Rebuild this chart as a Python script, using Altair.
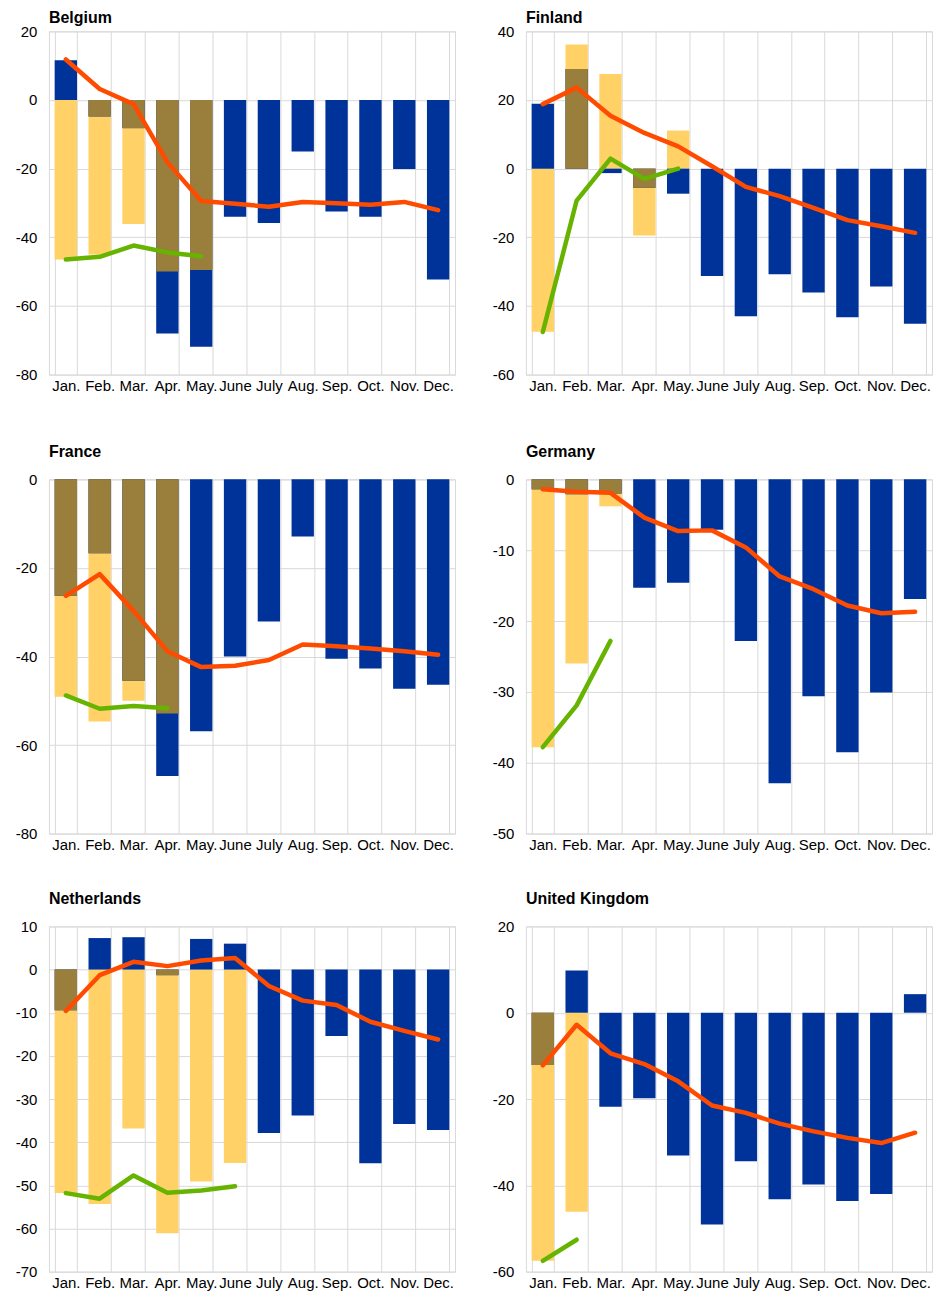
import altair as alt
import pandas as pd
import numpy as np

months = ["Jan.", "Feb.", "Mar.", "Apr.", "May.", "June", "July", "Aug.", "Sep.", "Oct.", "Nov.", "Dec."]
N = None

# ---- Belgium ----
belgium_blue = [11.6, -4.8, -8.2, -68.0, -71.9, -34.0, -35.8, -15.0, -32.5, -34.0, -20.1, -52.3]
belgium_yellow = [-46.5, -45.0, -36.1, -50.0, -49.5, N, N, N, N, N, N, N]
belgium_orange = [11.8, 3.2, -1.2, -18.1, -29.4, -30.2, -31.1, -29.7, -30.1, -30.5, -29.7, -32.1]
belgium_green = [-46.5, -45.7, -42.4, -44.4, -45.5, N, N, N, N, N, N, N]

# ---- Finland ----
finland_blue = [18.9, 29.0, -1.3, -5.6, -7.3, -31.3, -43.0, -30.8, -36.1, -43.3, -34.3, -45.2]
finland_yellow = [-47.5, 36.2, 27.6, -19.5, 11.1, N, N, N, N, N, N, N]
finland_orange = [18.8, 23.6, 15.4, 10.4, 6.5, 0.7, -5.3, -8.0, -11.4, -15.0, -16.8, -18.7]
finland_green = [-47.6, -9.3, 2.9, -3.0, 0.0, N, N, N, N, N, N, N]

# ---- France ----
france_blue = [-26.3, -16.7, -45.5, -67.0, -56.9, -40.0, -32.1, -12.9, -40.5, -42.7, -47.3, -46.4]
france_yellow = [-49.1, -54.7, -50.0, -52.9, N, N, N, N, N, N, N, N]
france_orange = [-26.3, -21.4, -29.7, -38.8, -42.4, -42.1, -40.8, -37.3, -37.7, -38.2, -38.8, -39.6]
france_green = [-48.8, -51.8, -51.2, -51.7, N, N, N, N, N, N, N, N]

# ---- Germany ----
germany_blue = [-1.4, -2.1, -2.0, -15.3, -14.6, -7.1, -22.8, -42.9, -30.6, -38.5, -30.1, -16.9]
germany_yellow = [-37.8, -26.0, -3.8, N, N, N, N, N, N, N, N, N]
germany_orange = [-1.4, -1.75, -1.9, -5.4, -7.3, -7.2, -9.6, -13.7, -15.5, -17.8, -18.9, -18.7]
germany_green = [-37.8, -31.9, -22.8, N, N, N, N, N, N, N, N, N]

# ---- Netherlands ----
netherlands_blue = [-9.4, 7.3, 7.5, -1.3, 7.1, 6.0, -37.9, -33.8, -15.4, -44.9, -35.8, -37.2]
netherlands_yellow = [-51.8, -54.3, -36.8, -61.1, -49.1, -44.8, N, N, N, N, N, N]
netherlands_orange = [-9.6, -1.3, 1.8, 0.8, 2.1, 2.7, -3.8, -7.2, -8.2, -12.1, -14.2, -16.2]
netherlands_green = [-51.8, -53.1, -47.7, -51.7, -51.2, -50.2, N, N, N, N, N, N]

# ---- United Kingdom ----
uk_blue = [-12.1, 9.8, -21.8, -19.8, -33.1, -49.1, -34.4, -43.2, -39.8, -43.6, -42.0, 4.3]
uk_yellow = [-57.5, -46.1, N, N, N, N, N, N, N, N, N, N]
uk_orange = [-12.2, -2.8, -9.4, -11.9, -15.9, -21.5, -23.2, -25.7, -27.5, -29.0, -30.2, -27.8]
uk_green = [-57.5, -52.6, N, N, N, N, N, N, N, N, N, N]

series = {
    "Belgium": (belgium_blue, belgium_yellow, belgium_orange, belgium_green),
    "Finland": (finland_blue, finland_yellow, finland_orange, finland_green),
    "France": (france_blue, france_yellow, france_orange, france_green),
    "Germany": (germany_blue, germany_yellow, germany_orange, germany_green),
    "Netherlands": (netherlands_blue, netherlands_yellow, netherlands_orange, netherlands_green),
    "United Kingdom": (uk_blue, uk_yellow, uk_orange, uk_green),
}

rows = []
for country, (b, y, o, g) in series.items():
    for i, m in enumerate(months):
        ov = None
        if y[i] is not None and b[i] is not None and np.sign(y[i]) == np.sign(b[i]):
            ov = float(np.sign(b[i]) * min(abs(b[i]), abs(y[i])))
        rows.append({"country": country, "month": m, "blue": b[i], "yellow": y[i],
                     "olive": ov, "orange": o[i], "green": g[i]})
df = pd.DataFrame(rows)

BLUE = "#003399"
YELLOW = "#FFD166"
OLIVE = "#9A7F3C"
ORANGE = "#FF4B00"
GREEN = "#66B400"
GRID = "#d9d9d9"
FONT = "Liberation Sans"


def panel(name, ymin, ymax, step, height, title_offset):
    base = alt.Chart(df).transform_filter(alt.datum.country == name)
    xenc = alt.X(
        "month:N", sort=months,
        scale=alt.Scale(domain=months, paddingInner=0.34, paddingOuter=0.17),
        axis=alt.Axis(title=None, labelAngle=0, grid=True, tickBand="extent", ticks=False,
                      domain=False, labelPadding=4, labelFontSize=15, labelColor="#000",
                      gridColor=GRID, labelFont=FONT),
    )
    yscale = alt.Scale(domain=[ymin, ymax], nice=False)
    yaxis = alt.Axis(title=None, values=list(range(ymin, ymax + 1, step)), grid=True,
                     ticks=False, domain=False, labelPadding=12, minExtent=40, maxExtent=40,
                     labelExpr="'' + datum.value",
                     labelFontSize=15, labelColor="#000", gridColor=GRID, labelFont=FONT)

    def bar(field, color):
        return base.mark_bar(color=color).encode(
            x=xenc, y=alt.Y(f"{field}:Q", scale=yscale, axis=yaxis), y2=alt.datum(0))

    def line(field, color):
        return base.mark_line(color=color, strokeWidth=4.5, strokeCap="round",
                              strokeJoin="round").encode(
            x=xenc, y=alt.Y(f"{field}:Q", scale=yscale, axis=yaxis))

    return alt.layer(
        bar("yellow", YELLOW), bar("blue", BLUE), bar("olive", OLIVE),
        line("orange", ORANGE), line("green", GREEN),
    ).properties(
        width=407, height=height,
        title=alt.TitleParams(name, anchor="start", frame="group", fontSize=16,
                              fontWeight="bold", offset=title_offset, font=FONT, color="#000"),
    )


row1 = alt.hconcat(panel("Belgium", -80, 20, 20, 344, -2),
                   panel("Finland", -60, 40, 20, 344, -2), spacing=29)
row2 = alt.hconcat(panel("France", -80, 0, 20, 355, 12),
                   panel("Germany", -50, 0, 10, 355, 12), spacing=29)
row3 = alt.hconcat(panel("Netherlands", -70, 10, 10, 346, 12),
                   panel("United Kingdom", -60, 20, 20, 346, 12), spacing=29)

chart = alt.vconcat(alt.vconcat(row1, row2, spacing=49), row3, spacing=37).properties(
    padding={"left": 0, "top": 0, "right": 0, "bottom": 0}
).configure_view(stroke=GRID)

chart.save("out.html", embed_options={"renderer": "svg", "actions": False})
